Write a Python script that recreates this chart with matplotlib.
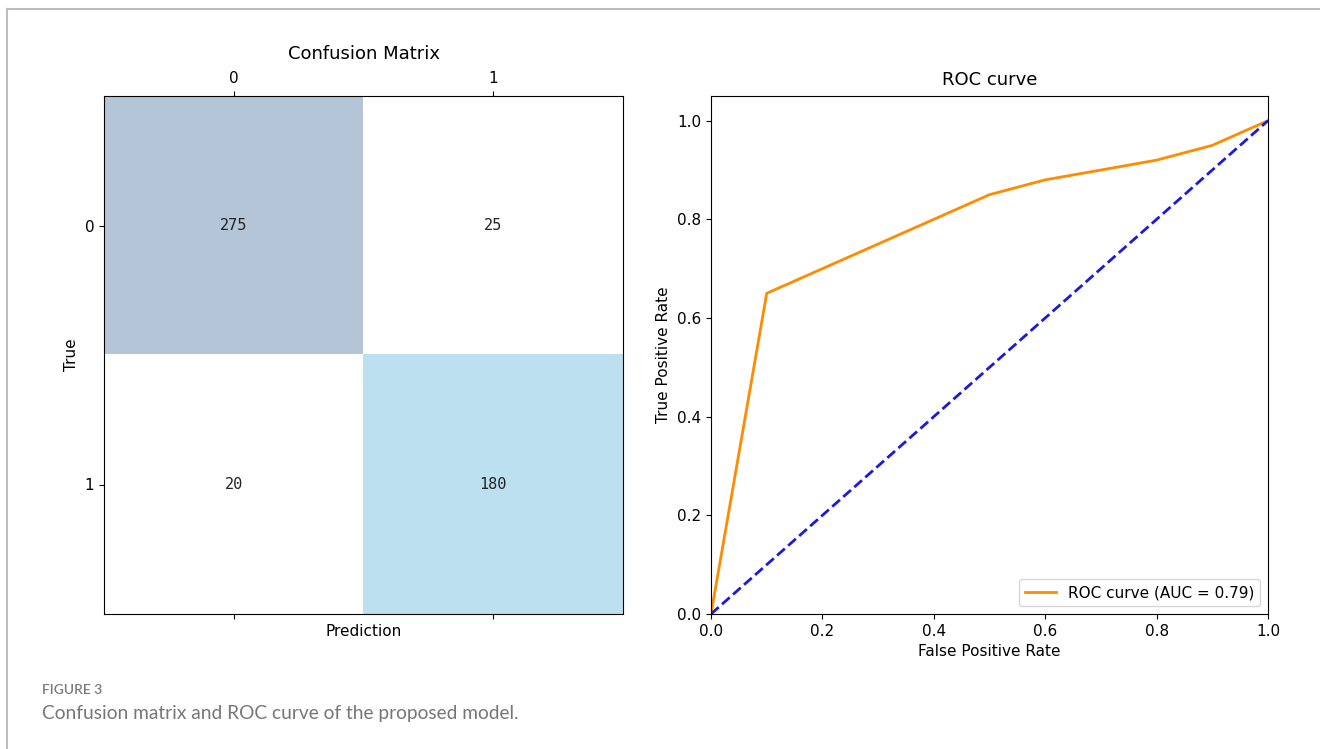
import matplotlib
matplotlib.use("Agg")
import matplotlib.pyplot as plt
from matplotlib.colors import ListedColormap, BoundaryNorm
from matplotlib.lines import Line2D
import numpy as np

# confusion matrix counts (rows = true, cols = predicted)
class_labels = ["0", "1"]
cm_counts = [[275, 25],
             [20, 180]]

# ROC curve points
fpr = [0.0, 0.1, 0.5, 0.6, 0.8, 0.9, 1.0]
tpr = [0.0, 0.65, 0.85, 0.88, 0.92, 0.95, 1.0]
roc_auc = 0.79

fig = plt.figure(figsize=(13.2, 7.49), dpi=100)
W, H = 1320, 749

def px_axes(x0, y0, x1, y1):
    return fig.add_axes([x0 / W, 1 - y1 / H, (x1 - x0) / W, (y1 - y0) / H])

# --- confusion matrix ---
ax1 = px_axes(104, 96, 623, 614)
cm = np.array(cm_counts)
cmap = ListedColormap(["white", "#bde0f0", "#b3c5d6"])
norm = BoundaryNorm([0, 100, 200, 300], cmap.N)
ax1.imshow(cm, cmap=cmap, norm=norm, aspect="auto")
for i in range(cm.shape[0]):
    for j in range(cm.shape[1]):
        ax1.text(j, i, str(cm[i, j]), ha="center", va="center",
                 fontsize=11, family="DejaVu Sans Mono", color="#222222")
ax1.set_xticks(range(len(class_labels)))
ax1.set_yticks(range(len(class_labels)))
ax1.set_xticklabels(class_labels)
ax1.set_yticklabels(class_labels)
ax1.xaxis.set_ticks_position("both")
ax1.tick_params(axis="x", labeltop=True, labelbottom=False)
ax1.set_xlabel("Prediction", fontsize=11)
ax1.xaxis.set_label_position("bottom")
ax1.set_ylabel("True", fontsize=11)
ax1.set_title("Confusion Matrix", fontsize=13, pad=9)

# --- ROC curve ---
ax2 = px_axes(711, 96, 1268, 614)
ax2.plot(fpr, tpr, color="darkorange", lw=2,
         label="ROC curve (AUC = %0.2f)" % roc_auc)
ax2.plot([0, 1], [0, 1], color="#1a1adb", lw=2, linestyle="--")
ax2.set_xlim(0.0, 1.0)
ax2.set_ylim(0.0, 1.05)
ax2.set_xlabel("False Positive Rate", fontsize=11)
ax2.set_ylabel("True Positive Rate", fontsize=11)
ax2.set_title("ROC curve", fontsize=13, pad=8)
ax2.legend(loc="lower right", fontsize=11)

for ax in (ax1, ax2):
    ax.tick_params(labelsize=11)

# page frame
fig.add_artist(Line2D([7 / W, 1], [1 - 9 / H, 1 - 9 / H], color="#bdbdbd", lw=1.5))
fig.add_artist(Line2D([7 / W, 7 / W], [0, 1 - 9 / H], color="#bdbdbd", lw=1.5))

# caption
fig.text(42 / W, 1 - 690 / H, "FIGURE 3", fontsize=10, color="#7a7a7a",
         family="Lato", weight="semibold", va="center")
fig.text(42 / W, 1 - 714 / H, "Confusion matrix and ROC curve of the proposed model.",
         fontsize=13.8, color="#767676", family="Lato", va="center")

fig.savefig("out.png", dpi=100)
